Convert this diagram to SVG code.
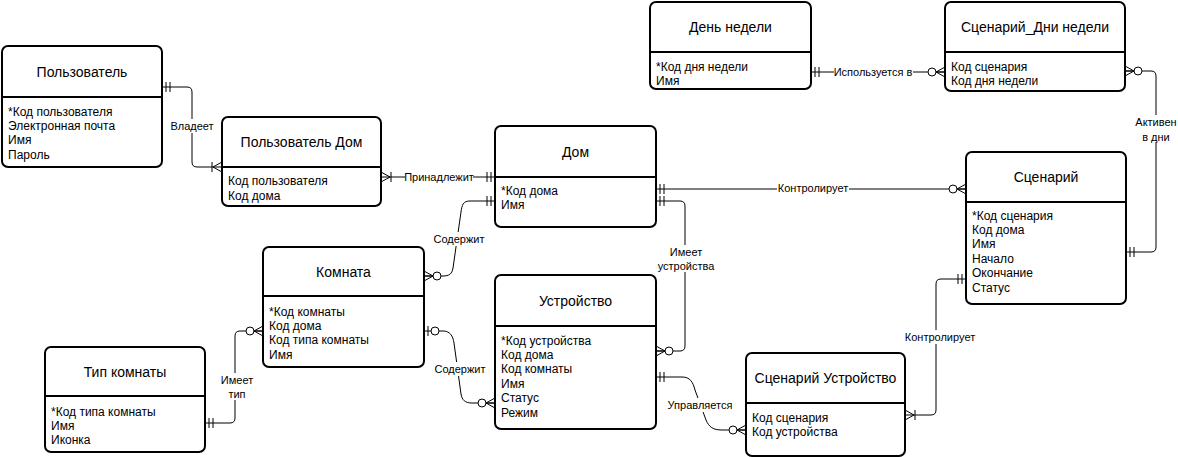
<svg xmlns="http://www.w3.org/2000/svg" width="1178" height="457" viewBox="0 0 1178 457">
<style>
.box{fill:#fff;stroke:#000;stroke-width:2}
.div{stroke:#000;stroke-width:2}
.title{font-family:"Liberation Sans",Arial,sans-serif;font-size:14px;text-anchor:middle;fill:#000}
.attr{font-family:"Liberation Sans",Arial,sans-serif;font-size:12px;fill:#000}
.edge{fill:none;stroke:#000;stroke-width:1}
.lbl{font-family:"Liberation Sans",Arial,sans-serif;font-size:11px;text-anchor:middle;fill:#000}
.lbg{fill:#fff}
.mk{fill:none;stroke:#000;stroke-width:1}
.mc{fill:#fff;stroke:#000;stroke-width:1}
</style>
<defs>
<marker id="mOne" markerUnits="userSpaceOnUse" viewBox="-20 -10 30 20" markerWidth="30" markerHeight="20" refX="0" refY="0" orient="auto-start-reverse" overflow="visible">
<path class="mk" d="M-4,-5V5M-8,-5V5"/>
</marker>
<marker id="mZeroMany" markerUnits="userSpaceOnUse" viewBox="-20 -10 30 20" markerWidth="30" markerHeight="20" refX="0" refY="0" orient="auto-start-reverse" overflow="visible">
<path class="mk" d="M-9,0L0,-5M-9,0L0,5M-9,0H0"/>
<circle class="mc" cx="-13" cy="0" r="4"/>
</marker>
<marker id="mOneMany" markerUnits="userSpaceOnUse" viewBox="-20 -10 30 20" markerWidth="30" markerHeight="20" refX="0" refY="0" orient="auto-start-reverse" overflow="visible">
<path class="mk" d="M-9,0L0,-5M-9,0L0,5M-10,-5V5"/>
</marker>
<marker id="mZeroOne" markerUnits="userSpaceOnUse" viewBox="-20 -10 30 20" markerWidth="30" markerHeight="20" refX="0" refY="0" orient="auto-start-reverse" overflow="visible">
<path class="mk" d="M-4,-5V5"/>
<circle class="mc" cx="-11" cy="0" r="4"/>
</marker>
</defs>

<g id="connectors">
<path class="edge" d="M162,87H187Q192,87 192,92V162Q192,167 197,167H222" marker-start="url(#mOne)" marker-end="url(#mOneMany)"/>
<path class="edge" d="M381,177H495" marker-start="url(#mOneMany)" marker-end="url(#mOne)"/>
<path class="edge" d="M656,189H966" marker-start="url(#mOne)" marker-end="url(#mZeroMany)"/>
<path class="edge" d="M656,201H680Q685,201 685,206V346Q685,351 680,351H656" marker-start="url(#mOne)" marker-end="url(#mZeroMany)"/>
<path class="edge" d="M495,201L470,201C463,201 462,205 461,212L453,268C452,274 449,276 443,276L424,276" marker-start="url(#mOne)" marker-end="url(#mZeroMany)"/>
<path class="edge" d="M424,331L443,331C450,331 453,336 454,343L461,394C462,400 465,403 472,403L495,403" marker-start="url(#mZeroOne)" marker-end="url(#mZeroMany)"/>
<path class="edge" d="M205,423H230Q235,423 235,418V336Q235,331 240,331H263" marker-start="url(#mOne)" marker-end="url(#mZeroMany)"/>
<path class="edge" d="M656,377L682,377C690,377 693,382 695,390L706,420C709,427 713,430 722,430L746,430" marker-start="url(#mOne)" marker-end="url(#mZeroMany)"/>
<path class="edge" d="M905,415H931Q936,415 936,410V284Q936,279 941,279H966" marker-start="url(#mOneMany)" marker-end="url(#mOne)"/>
<path class="edge" d="M1125,71H1151Q1156,71 1156,76V247Q1156,252 1151,252H1126" marker-start="url(#mZeroMany)" marker-end="url(#mOne)"/>
<path class="edge" d="M811,72H945" marker-start="url(#mOne)" marker-end="url(#mZeroMany)"/>

<rect class="lbg" x="171" y="119" width="42" height="14"/>
<text class="lbl" x="192" y="130">Владеет</text>
<rect class="lbg" x="405" y="170" width="68" height="14"/>
<text class="lbl" x="439" y="181">Принадлежит</text>
<rect class="lbg" x="777" y="182" width="72" height="14"/>
<text class="lbl" x="813" y="192">Контролирует</text>
<rect class="lbg" x="656" y="245" width="60" height="27"/>
<text class="lbl" x="686" y="256">Имеет</text>
<text class="lbl" x="686" y="270">устройства</text>
<rect class="lbg" x="433" y="232" width="52" height="14"/>
<text class="lbl" x="459" y="243">Содержит</text>
<rect class="lbg" x="434" y="362" width="52" height="14"/>
<text class="lbl" x="460" y="373">Содержит</text>
<rect class="lbg" x="220" y="373" width="34" height="27"/>
<text class="lbl" x="237" y="384">Имеет</text>
<text class="lbl" x="237" y="398">тип</text>
<rect class="lbg" x="667" y="398" width="66" height="14"/>
<text class="lbl" x="700" y="409">Управляется</text>
<rect class="lbg" x="904" y="330" width="72" height="14"/>
<text class="lbl" x="940" y="341">Контролирует</text>
<rect class="lbg" x="1134" y="115" width="44" height="27"/>
<text class="lbl" x="1156" y="126">Активен</text>
<text class="lbl" x="1156" y="141">в дни</text>
<rect class="lbg" x="834" y="65" width="79" height="14"/>
<text class="lbl" x="873" y="76">Используется в</text>
</g>

<g id="node-user">
<rect class="box" x="2" y="46" width="160" height="121" rx="6"/>
<line class="div" x1="2" y1="97" x2="162" y2="97"/>
<text class="title" x="82" y="77">Пользователь</text>
<text class="attr" x="8" y="115.5">*Код пользователя</text>
<text class="attr" x="8" y="130">Электронная почта</text>
<text class="attr" x="8" y="144">Имя</text>
<text class="attr" x="8" y="158.5">Пароль</text>
</g>

<g id="node-user-home">
<rect class="box" x="222" y="117" width="159" height="89" rx="6"/>
<line class="div" x1="222" y1="167" x2="381" y2="167"/>
<text class="title" x="301.5" y="147">Пользователь Дом</text>
<text class="attr" x="228" y="185">Код пользователя</text>
<text class="attr" x="228" y="199.5">Код дома</text>
</g>

<g id="node-home">
<rect class="box" x="495" y="126" width="161" height="101" rx="6"/>
<line class="div" x1="495" y1="177" x2="656" y2="177"/>
<text class="title" x="575.5" y="156.5">Дом</text>
<text class="attr" x="501" y="195">*Код дома</text>
<text class="attr" x="501" y="209">Имя</text>
</g>

<g id="node-scenario">
<rect class="box" x="966" y="152" width="160" height="152" rx="6"/>
<line class="div" x1="966" y1="202" x2="1126" y2="202"/>
<text class="title" x="1046" y="182">Сценарий</text>
<text class="attr" x="972" y="219.5">*Код сценария</text>
<text class="attr" x="972" y="233.9">Код дома</text>
<text class="attr" x="972" y="248.3">Имя</text>
<text class="attr" x="972" y="262.7">Начало</text>
<text class="attr" x="972" y="277.1">Окончание</text>
<text class="attr" x="972" y="291.5">Статус</text>
</g>

<g id="node-weekday">
<rect class="box" x="650" y="2" width="161" height="87" rx="6"/>
<line class="div" x1="650" y1="52" x2="811" y2="52"/>
<text class="title" x="730.5" y="32">День недели</text>
<text class="attr" x="656" y="71">*Код дня недели</text>
<text class="attr" x="656" y="85">Имя</text>
</g>

<g id="node-scenario-weekdays">
<rect class="box" x="945" y="2" width="180" height="89" rx="6"/>
<line class="div" x1="945" y1="52" x2="1125" y2="52"/>
<text class="title" x="1035" y="32">Сценарий_Дни недели</text>
<text class="attr" x="951" y="70.5">Код сценария</text>
<text class="attr" x="951" y="85">Код дня недели</text>
</g>

<g id="node-room">
<rect class="box" x="263" y="247" width="161" height="120" rx="6"/>
<line class="div" x1="263" y1="296" x2="424" y2="296"/>
<text class="title" x="343.5" y="276.5">Комната</text>
<text class="attr" x="269" y="315.5">*Код комнаты</text>
<text class="attr" x="269" y="329.9">Код дома</text>
<text class="attr" x="269" y="344.3">Код типа комнаты</text>
<text class="attr" x="269" y="358.7">Имя</text>
</g>

<g id="node-room-type">
<rect class="box" x="45" y="347" width="160" height="105" rx="6"/>
<line class="div" x1="45" y1="396" x2="205" y2="396"/>
<text class="title" x="125" y="376.5">Тип комнаты</text>
<text class="attr" x="51" y="415.5">*Код типа комнаты</text>
<text class="attr" x="51" y="429.9">Имя</text>
<text class="attr" x="51" y="444.3">Иконка</text>
</g>

<g id="node-device">
<rect class="box" x="495" y="275" width="161" height="154" rx="6"/>
<line class="div" x1="495" y1="326" x2="656" y2="326"/>
<text class="title" x="575.5" y="305.5">Устройство</text>
<text class="attr" x="501" y="344.5">*Код устройства</text>
<text class="attr" x="501" y="358.9">Код дома</text>
<text class="attr" x="501" y="373.3">Код комнаты</text>
<text class="attr" x="501" y="387.7">Имя</text>
<text class="attr" x="501" y="402.1">Статус</text>
<text class="attr" x="501" y="416.5">Режим</text>
</g>

<g id="node-scenario-device">
<rect class="box" x="746" y="353" width="159" height="103" rx="6"/>
<line class="div" x1="746" y1="403" x2="905" y2="403"/>
<text class="title" x="825.5" y="383">Сценарий Устройство</text>
<text class="attr" x="752" y="421.5">Код сценария</text>
<text class="attr" x="752" y="435.5">Код устройства</text>
</g>
</svg>
